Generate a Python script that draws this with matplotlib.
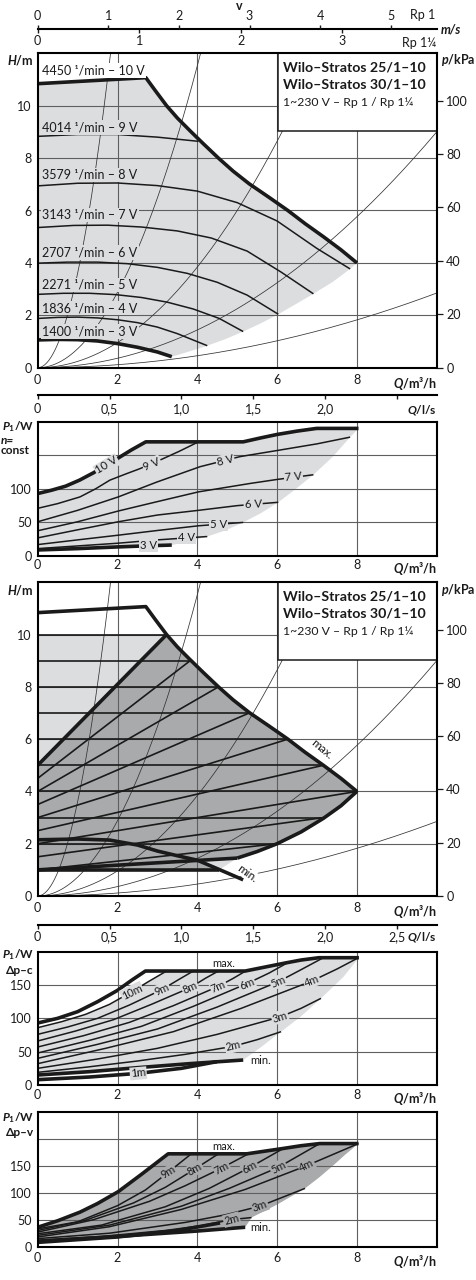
import numpy as np
import matplotlib
matplotlib.use("Agg")
import matplotlib.pyplot as plt

plt.rcParams['font.family'] = ['Lato', 'DejaVu Sans']
plt.rcParams['mathtext.fontset'] = 'custom'
plt.rcParams['mathtext.rm'] = 'Lato:bold'
plt.rcParams['mathtext.it'] = 'Lato:italic:bold'
plt.rcParams['mathtext.bf'] = 'Lato:bold'

# ------------------------------------------------------------------ data
Q_TICKS = [0, 2, 4, 6, 8]
Q_TICK_LABELS = ['0', '2', '4', '6', '8']
GRID_Q = [2, 4, 6, 8]

V_RP1 = [0, 1, 2, 3, 4, 5]
V_RP114 = [0, 1, 2, 3]
M3H_PER_MS_RP1 = 1.77
M3H_PER_MS_RP114 = 2.545
LS_TICKS = [0, 0.5, 1.0, 1.5, 2.0, 2.5]
LS_LABELS_A = ['0', '0,5', '1,0', '1,5', '2,0', '']
LS_LABELS_B = ['0', '0,5', '1,0', '1,5', '2,0', '2,5']
M3H_PER_LS = 3.6

H_TICKS = [0, 2, 4, 6, 8, 10]
GRID_H = [2, 4, 6, 8, 10]
KPA_TICKS = [0, 20, 40, 60, 80, 100]
KPA_PER_M = 9.81

BOX_LINES = ['Wilo–Stratos 25/1–10', 'Wilo–Stratos 30/1–10', '1~230 V – Rp 1 / Rp 1¼']

# max. curve (H/m over Q/m3/h)
max_q = [0, 2.71, 2.95, 3.23, 3.5, 3.82, 4.15, 4.53, 4.9, 5.3, 5.8, 6.27, 6.7, 7.16, 7.6, 8.0]
max_h = [10.84, 11.07, 10.57, 10.0, 9.53, 9.04, 8.55, 8.0, 7.5, 7.02, 6.5, 6.0, 5.5, 5.0, 4.5, 4.0]
MAX_KNEE = 3  # index of the point (3.23, 10)

# constant speed curves 9 V ... 3 V
speed_rpm = ['4450', '4014', '3579', '3143', '2707', '2271', '1836', '1400']
speed_volt = ['10', '9', '8', '7', '6', '5', '4', '3']
speed_label_h = [11.35, 9.17, 7.36, 5.83, 4.4, 3.16, 2.27, 1.38]
n_curve_q = [
    [0, 1, 2, 3, 4.03],
    [0, 1, 2, 3, 4, 5, 6, 7, 7.83],
    [0, 0.9, 1.75, 2.6, 3.5, 4.35, 5.25, 6.1, 6.91],
    [0, 0.75, 1.5, 2.25, 3, 3.75, 4.5, 5.25, 6.03],
    [0, 0.65, 1.3, 1.95, 2.6, 3.25, 3.9, 4.55, 5.15],
    [0, 0.5, 1, 1.5, 2, 2.5, 3, 3.5, 4.25],
    [0, 0.5, 1, 1.5, 2, 2.5, 3, 3.36],
]
n_curve_h = [
    [8.83, 8.9, 8.9, 8.8, 8.64],
    [6.94, 7.04, 7.05, 6.95, 6.74, 6.3, 5.6, 4.55, 3.77],
    [5.35, 5.43, 5.44, 5.37, 5.22, 4.95, 4.45, 3.65, 2.82],
    [3.99, 4.03, 4.03, 3.97, 3.83, 3.6, 3.26, 2.77, 2.04],
    [2.80, 2.84, 2.84, 2.79, 2.68, 2.5, 2.24, 1.88, 1.38],
    [1.88, 1.92, 1.93, 1.9, 1.83, 1.72, 1.55, 1.3, 0.84],
    [1.06, 1.08, 1.07, 1.02, 0.92, 0.78, 0.6, 0.42],
]
p1_edge_q = [8.0, 7.83, 7.4, 6.91, 6.45, 6.03, 5.6, 5.15, 4.7, 4.25, 3.8, 3.36]
p1_edge_h = [4.0, 3.77, 3.28, 2.82, 2.41, 2.04, 1.7, 1.38, 1.09, 0.84, 0.62, 0.42]

system_k = [3.6, 0.72, 0.24, 0.09, 0.0285]

# power, n = const
p2_max_q = [0, 0.35, 0.7, 1.05, 1.4, 1.7, 2.02, 2.35, 2.71, 5.15, 5.6, 6.0, 6.5, 6.99, 8.04]
p2_max_p = [93, 98, 104, 113, 124, 135, 146, 158, 170, 170, 176, 181, 186, 190, 190]
p2_curve_q = [
    [0, 0.5, 1.06, 1.45, 1.81, 2.2, 2.56, 3.07, 3.55, 4.03],
    [0, 1, 2.02, 2.98, 4.07, 5.07, 5.99, 7.0, 7.83],
    [0, 1, 2.02, 3, 4.03, 5.32, 6.0, 6.91],
    [0, 1, 2.02, 3, 4.03, 5, 6.03],
    [0, 1, 2.02, 3, 4.03, 5.15],
    [0, 1, 2, 3, 4.25],
    [0, 1, 2, 2.8, 3.36],
]
p2_curve_p = [
    [71, 78, 88, 100, 113, 122, 130, 143, 156, 170],
    [51, 68, 88, 110, 133, 148, 157, 167, 177],
    [37.6, 51, 67, 81, 95.5, 108, 114, 121],
    [27, 39, 51, 61, 68, 75, 80],
    [17, 24, 31, 38, 45, 50],
    [11, 15, 19, 24, 29],
    [9, 11, 13.5, 15.3, 16.3],
]
p2_edge_q = [8.04, 7.83, 7.4, 6.91, 6.45, 6.03, 5.6, 5.15, 4.7, 4.25, 3.8, 3.36]
p2_edge_p = [190, 177, 148, 121, 99, 80, 64, 50, 38, 29, 22, 16.3]
p2_label_q = [1.73, 2.86, 4.7, 6.41, 5.4, 4.53, 3.73, 2.77]
p2_label_p = [135, 137, 142, 117.5, 77, 47, 27, 15.3]
p2_rot = [31, 23, 14, 5, 2, 0, 0, 0]

# panel 3: dp-c / dp-v ranges
dpc_h = [2, 3, 4, 5, 6, 7, 8, 9, 10]
dpc_end_q = [6.0, 7.16, 8.0, 7.16, 6.27, 5.3, 4.53, 3.82, 3.23]
dpc_min_h = 1.0
dpc_min_end_q = 4.55
dpv_h0 = [4.5, 4.0, 3.5, 3.0, 2.5, 2.0, 1.5, 1.0]
dpv_end_q = [3.82, 4.53, 5.3, 6.27, 7.16, 8.0, 7.16, 6.0]
dpv_end_h = [9, 8, 7, 6, 5, 4, 3, 2]
dpv_max_q = [0, 3.23]
dpv_max_h = [5.0, 10.0]
dpv_min_q = [0, 5.0]
dpv_min_h = [1.0, 1.45]
p3_edge_q = [8.0, 7.6, 7.16, 6.6, 6.0, 5.5, 5.0, 4.55]
p3_edge_h = [4.0, 3.45, 2.97, 2.45, 2.0, 1.7, 1.45, 1.0]
EDGE_DPV_END = 6  # index of (5.0, 1.45)
minspd_q = [0, 1, 1.8, 2.5, 3.0, 3.5, 4.0, 4.57, 5.15]
minspd_h = [2.15, 2.18, 2.14, 1.95, 1.72, 1.54, 1.37, 1.0, 0.62]
MINSPD_CROSS = 6  # index of (4.0, 1.37), crossing with dp-v min line

# panel 4: power dp-c
p4_max_q = [0, 0.5, 1.0, 1.5, 2.0, 2.35, 2.7, 5.2, 5.7, 6.2, 6.6, 7.05, 8.05]
p4_max_p = [93, 100, 110, 125, 142, 157, 171, 171, 177, 183, 187.5, 191, 191]
p4_names = ['10m', '9m', '8m', '7m', '6m', '5m', '4m', '3m', '2m']
p4_q = [[0, 0.6, 1.2, 1.8, 2.36, 2.8, 3.23], [0, 0.75, 1.5, 2.3, 3.11, 3.5, 3.9],
        [0, 0.95, 1.9, 2.85, 3.82, 4.2, 4.53], [0, 1.15, 2.3, 3.4, 4.53, 4.9, 5.24],
        [0, 1.3, 2.6, 3.9, 5.24, 5.8, 6.28], [0, 1.5, 3.0, 4.5, 6.03, 6.6, 7.16],
        [0, 1.7, 3.4, 5.1, 6.87, 7.5, 8.04], [0, 1.5, 3.0, 4.5, 6.07, 6.6, 7.1],
        [0, 1.25, 2.5, 3.7, 4.9, 5.5, 6.1]]
p4_p = [[86, 95, 106, 121, 140, 156, 171], [76, 87, 100, 120, 143, 157, 171],
        [66, 81, 98, 121, 146, 160, 171], [57, 74, 94, 119, 148, 160, 172],
        [48, 67, 88, 118, 152, 168, 184], [40, 61, 84, 117, 155, 173, 191],
        [32, 55, 80, 115, 156, 174, 191], [25, 39, 55, 76, 102, 115, 130],
        [19, 27, 36, 46, 58, 68, 80]]
p4_rot = [26, 25, 24, 23, 22, 22, 21, 17, 13]
P4_LABEL_AT = 4
p4_min_q = [0, 1.3, 2.5, 3.8, 5.15]
p4_min_p = [15, 20, 26, 32, 37.5]
p4_1m_q = [0, 1.3, 2.52, 3.6, 4.49]
p4_1m_p = [8, 12, 17.5, 25, 35]
p4_edge_q = [8.05, 7.66, 7.1, 6.6, 6.1, 5.6, 5.15]
p4_edge_p = [191, 162, 130, 103, 80, 57, 37.5]

# panel 5: power dp-v
p5_max_q = [0, 0.5, 1.06, 1.5, 2.02, 2.6, 3.27, 5.24, 5.7, 6.16, 6.6, 7.07, 8.04]
p5_max_p = [36, 48, 64, 80, 102, 134, 172, 172, 177, 182, 187, 191, 191]
p5_names = ['9m', '8m', '7m', '6m', '5m', '4m', '3m', '2m']
p5_q = [[0, 1, 2, 2.7, 3.27, 3.85], [0, 1.2, 2.4, 3.2, 3.94, 4.53], [0, 1.4, 2.8, 3.7, 4.61, 5.28],
        [0, 1.6, 3.2, 4.3, 5.32, 6.16], [0, 1.8, 3.6, 4.8, 6.03, 7.07], [0, 1.8, 3.6, 5.2, 6.74, 8.04],
        [0, 1.8, 3.7, 4.7, 5.57, 6.7], [0, 1.6, 3.2, 4.1, 4.86, 5.36]]
p5_p = [[33, 46, 76, 105, 137.6, 172], [30, 49, 81, 110, 143.8, 172], [27, 50, 84, 113, 145.6, 172],
        [24, 40, 74, 108, 146.9, 182], [21, 40, 75, 108, 146.9, 191], [18, 37, 69, 106, 150, 191],
        [15, 25, 45, 59, 75, 108], [12, 19, 30, 39, 50.2, 54]]
p5_rot = [31, 29, 28, 28, 27, 26, 20, 15]
P5_LABEL_AT = 4
p5_min_q = [0, 2, 4, 5.2]
p5_min_p = [10, 19, 29, 36]
p5_low_q = [0, 2, 3.5, 4.57]
p5_low_p = [8, 18, 30, 44]
p5_edge_q = [8.04, 7.7, 7.4, 7.05, 6.7, 6.0, 5.36, 5.2]
p5_edge_p = [191, 170, 150, 128, 108, 78, 54, 36]

# ------------------------------------------------------------------ style
W, H = 477, 1280
LIGHT = '#dcdddf'
DARK = '#a9aaac'
GRID = '#5f5f5f'
INK = '#1a1a1a'
THIN = 1.1
THICK = 2.6
SYS = 0.55
FS_TICK = 9

fig = plt.figure(figsize=(W / 100, H / 100), dpi=100)


def fx(px):
    return px / W


def fy(py):
    return 1 - py / H


def make_axes(left, top, right, bottom):
    return fig.add_axes([fx(left), fy(bottom), (right - left) / W, (bottom - top) / H])


def style_panel(ax, ymax, yt, grid_y, xpad):
    ax.set_xlim(0, 10)
    ax.set_ylim(0, ymax)
    ax.set_xticks(Q_TICKS)
    ax.set_xticklabels(Q_TICK_LABELS)
    ax.set_yticks(yt)
    ax.set_yticklabels([str(t) for t in yt])
    ax.tick_params(axis='both', length=0, labelsize=FS_TICK, colors=INK)
    ax.tick_params(axis='x', pad=xpad)
    ax.tick_params(axis='y', pad=4.3)
    for s in ax.spines.values():
        s.set_linewidth(1.5)
        s.set_zorder(10)
    for q in GRID_Q:
        ax.axvline(q, color=GRID, lw=0.8, zorder=1.5)
    for y in grid_y:
        ax.axhline(y, color=GRID, lw=0.8, zorder=1.5)
    ax.annotate(r'$\mathit{Q}\mathrm{/m³/h}$', xy=(1, 0), xycoords='axes fraction',
                xytext=(0, -xpad * 100 / 72 - 1), textcoords='offset pixels',
                ha='right', va='top', fontsize=9, color=INK)


def curve(ax, q, y, lw, z=4):
    ax.plot(q, y, color=INK, lw=lw, zorder=z, solid_capstyle='butt')


def tag(ax, q, y, s, rot, fc, fs=8.2):
    ax.text(q, y, s, rotation=rot, rotation_mode='anchor', ha='center', va='center',
            fontsize=fs, color=INK, zorder=7,
            bbox=dict(boxstyle='square,pad=0.08', fc=fc, ec='none'))


def system_curves(ax):
    qq = np.linspace(0, 10, 400)
    for k in system_k:
        ax.plot(qq, k * qq ** 2, color='#333333', lw=SYS, zorder=3)


def info_box(ax):
    ax.add_patch(plt.Rectangle((6.03, 9.02), 3.97, 2.98, fc='white', ec=INK, lw=1.1, zorder=8))
    ax.text(6.16, 11.46, BOX_LINES[0], fontsize=10.2, fontweight='bold', va='center', zorder=9, color=INK)
    ax.text(6.16, 10.8, BOX_LINES[1], fontsize=10.2, fontweight='bold', va='center', zorder=9, color=INK)
    ax.text(6.16, 10.13, BOX_LINES[2], fontsize=8.8, va='center', zorder=9, color=INK)


def kpa_axis(ax):
    r = ax.twinx()
    r.set_ylim(0, 12 * KPA_PER_M)
    r.set_yticks(KPA_TICKS)
    r.set_yticklabels([str(t) for t in KPA_TICKS])
    r.tick_params(axis='y', direction='out', length=4.3, width=0.9, pad=2.5,
                  labelsize=FS_TICK, colors=INK)
    for s in r.spines.values():
        s.set_visible(False)


def ftext(px, py, s, **kw):
    kw.setdefault('color', INK)
    fig.text(fx(px), fy(py), s, **kw)


def scale_axis(py, ticks_q, labels, pad):
    a = fig.add_axes([fx(37.7), fy(py), 399 / W, 1e-5])
    a.set_xlim(0, 10)
    a.set_yticks([])
    for k in ['left', 'right', 'top']:
        a.spines[k].set_visible(False)
    a.spines['bottom'].set_linewidth(1.5)
    a.set_xticks(ticks_q)
    a.set_xticklabels(labels)
    a.tick_params(axis='x', direction='out', length=3.2, width=1.0, pad=pad,
                  labelsize=FS_TICK, colors=INK)
    a.patch.set_visible(False)
    return a


# ------------------------------------------------------------------ velocity scale
axv = scale_axis(29.3, [v * M3H_PER_MS_RP114 for v in V_RP114], [str(v) for v in V_RP114], 1.2)
axt = axv.twiny()
axt.set_xlim(0, 10)
axt.set_xticks([v * M3H_PER_MS_RP1 for v in V_RP1])
axt.set_xticklabels([str(v) for v in V_RP1])
axt.tick_params(axis='x', direction='out', length=3.2, width=1.0, pad=2.0,
                labelsize=FS_TICK, colors=INK)
for s in axt.spines.values():
    s.set_visible(False)
ftext(435, 15, 'Rp 1', ha='right', va='center', fontsize=FS_TICK)
ftext(436.7, 42.7, 'Rp 1¼', ha='right', va='center', fontsize=FS_TICK)
ftext(441, 29.3, 'm/s', ha='left', va='center', fontsize=9, fontweight='bold', fontstyle='italic')
ftext(239, 5.5, 'v', ha='center', va='center', fontsize=9, fontweight='bold')

# ------------------------------------------------------------------ panel 1
ax1 = make_axes(37.7, 53.3, 436.7, 367.7)
style_panel(ax1, 12, H_TICKS, GRID_H, 4.3)
kpa_axis(ax1)
ax1.fill(list(max_q) + p1_edge_q + n_curve_q[-1][::-1],
         list(max_h) + p1_edge_h + n_curve_h[-1][::-1], color=LIGHT, lw=0, zorder=1)
curve(ax1, max_q, max_h, THICK)
for i, (q, h) in enumerate(zip(n_curve_q, n_curve_h)):
    curve(ax1, q, h, THICK if i == len(n_curve_q) - 1 else THIN)
system_curves(ax1)
for i, (rpm, v, lh) in enumerate(zip(speed_rpm, speed_volt, speed_label_h)):
    ax1.text(0.12, lh, f'{rpm} ¹/min – {v} V', ha='left', va='center', fontsize=9, color=INK,
             zorder=7, bbox=dict(boxstyle='square,pad=0.1', fc='white' if i == 0 else LIGHT, ec='none'))
info_box(ax1)
ftext(33.5, 60, r'$\mathit{H}\mathrm{/m}$', ha='right', va='center', fontsize=9)
ftext(441, 60, r'$\mathit{p}\mathrm{/kPa}$', ha='left', va='center', fontsize=9)

# ------------------------------------------------------------------ Q l/s scale A
axl = scale_axis(395, [v * M3H_PER_LS for v in LS_TICKS], LS_LABELS_A, 2.8)
ftext(436.7, 410, r'$\mathit{Q}\mathrm{/l/s}$', ha='right', va='center', fontsize=8.6)

# ------------------------------------------------------------------ panel 2
ax2 = make_axes(37.7, 421.7, 436.7, 556)
style_panel(ax2, 200, [0, 50, 100], [50, 100, 150], 2.4)
ax2.fill(list(p2_max_q) + p2_edge_q + p2_curve_q[-1][::-1],
         list(p2_max_p) + p2_edge_p + p2_curve_p[-1][::-1], color=LIGHT, lw=0, zorder=1)
curve(ax2, p2_max_q, p2_max_p, THICK)
for i, (q, p) in enumerate(zip(p2_curve_q, p2_curve_p)):
    curve(ax2, q, p, THICK if i == len(p2_curve_q) - 1 else THIN)
for v, q, p, r in zip(speed_volt, p2_label_q, p2_label_p, p2_rot):
    tag(ax2, q, p, f'{v} V', r, LIGHT)
ftext(33.5, 426.5, r'$\mathit{P_1}\mathrm{/W}$', ha='right', va='center', fontsize=8.6)
ftext(0.5, 440.5, 'n=', ha='left', va='center', fontsize=8.6, fontweight='bold', fontstyle='italic')
ftext(0.5, 451, 'const', ha='left', va='center', fontsize=8.6, fontweight='bold')

# ------------------------------------------------------------------ panel 3
ax3 = make_axes(37.7, 582.3, 436.7, 896)
style_panel(ax3, 12, H_TICKS, GRID_H, 4.3)
kpa_axis(ax3)
top_q = max_q[MAX_KNEE:]
top_h = max_h[MAX_KNEE:]
ax3.fill([0, dpc_min_end_q] + p3_edge_q[::-1][1:] + top_q[::-1] + [0],
         [dpc_min_h, dpc_min_h] + p3_edge_h[::-1][1:] + top_h[::-1] + [10],
         color=LIGHT, lw=0, zorder=1)
ax3.fill(dpv_max_q + top_q[1:] + p3_edge_q[1:EDGE_DPV_END + 1]
         + minspd_q[MINSPD_CROSS:MINSPD_CROSS + 2] + [0],
         dpv_max_h + top_h[1:] + p3_edge_h[1:EDGE_DPV_END + 1]
         + minspd_h[MINSPD_CROSS:MINSPD_CROSS + 2] + [dpc_min_h],
         color=DARK, lw=0, zorder=1.2)
for h, qe in zip(dpc_h, dpc_end_q):
    ax3.plot([0, qe], [h, h], color=INK, lw=1.2, zorder=3.5)
for h0, qe, he in zip(dpv_h0, dpv_end_q, dpv_end_h):
    ax3.plot([0, qe], [h0, he], color=INK, lw=1.2, zorder=3.5)
curve(ax3, [0, dpc_min_end_q], [dpc_min_h, dpc_min_h], THICK)
curve(ax3, dpv_max_q, dpv_max_h, THICK)
curve(ax3, dpv_min_q, dpv_min_h, THICK)
curve(ax3, p3_edge_q[:EDGE_DPV_END + 1], p3_edge_h[:EDGE_DPV_END + 1], THICK)
curve(ax3, max_q, max_h, THICK)
curve(ax3, minspd_q, minspd_h, THICK)
system_curves(ax3)
info_box(ax3)
ax3.text(7.12, 5.6, 'max.', rotation=-40, rotation_mode='anchor', ha='center', va='center',
         fontsize=8.5, color=INK, zorder=7)
ax3.text(5.26, 0.86, 'min.', rotation=-36, rotation_mode='anchor', ha='center', va='center',
         fontsize=8.5, color=INK, zorder=7, bbox=dict(boxstyle='square,pad=0.05', fc='white', ec='none'))
ftext(33.5, 590, r'$\mathit{H}\mathrm{/m}$', ha='right', va='center', fontsize=9)
ftext(441, 590, r'$\mathit{p}\mathrm{/kPa}$', ha='left', va='center', fontsize=9)

# ------------------------------------------------------------------ Q l/s scale B
axl2 = scale_axis(925, [v * M3H_PER_LS for v in LS_TICKS], LS_LABELS_B, 1.0)
ftext(436.7, 937, r'$\mathit{Q}\mathrm{/l/s}$', ha='right', va='center', fontsize=8.6)

# ------------------------------------------------------------------ panel 4
ax4 = make_axes(37.7, 951.7, 436.7, 1085)
style_panel(ax4, 200, [0, 50, 100, 150], [50, 100, 150], 3.0)
top4_q = p4_q[0] + [q for q in p4_max_q if q > p4_q[0][-1]]
top4_p = p4_p[0] + [p for q, p in zip(p4_max_q, p4_max_p) if q > p4_q[0][-1]]
ax4.fill(top4_q + p4_edge_q[1:] + p4_min_q[::-1],
         top4_p + p4_edge_p[1:] + p4_min_p[::-1], color=LIGHT, lw=0, zorder=1)
curve(ax4, p4_max_q, p4_max_p, THICK)
for q, p in zip(p4_q, p4_p):
    curve(ax4, q, p, THIN)
curve(ax4, p4_min_q, p4_min_p, THICK)
curve(ax4, p4_1m_q, p4_1m_p, THICK)
for n, q, p, r in zip(p4_names, p4_q, p4_p, p4_rot):
    tag(ax4, q[P4_LABEL_AT], p[P4_LABEL_AT], n, r, LIGHT, 7.8)
tag(ax4, p4_1m_q[2], p4_1m_p[2], '1m', 5, LIGHT, 7.8)
ax4.text(4.65, 182.5, 'max.', ha='center', va='center', fontsize=8, color=INK, zorder=7)
ax4.text(5.32, 37, 'min.', ha='left', va='center', fontsize=8, color=INK, zorder=7)
ftext(33.5, 955, r'$\mathit{P_1}\mathrm{/W}$', ha='right', va='center', fontsize=8.6)
ftext(33.5, 971, 'Δp–c', ha='right', va='center', fontsize=8.6, fontweight='bold')

# ------------------------------------------------------------------ panel 5
ax5 = make_axes(37.7, 1111.7, 436.7, 1246.7)
style_panel(ax5, 250, [0, 50, 100, 150], [50, 100, 150, 200], 4.0)
ax5.fill(list(p5_max_q) + p5_edge_q[1:] + p5_min_q[::-1],
         list(p5_max_p) + p5_edge_p[1:] + p5_min_p[::-1], color=DARK, lw=0, zorder=1)
curve(ax5, p5_max_q, p5_max_p, THICK)
for q, p in zip(p5_q, p5_p):
    curve(ax5, q, p, THIN)
curve(ax5, p5_min_q, p5_min_p, THICK)
curve(ax5, p5_low_q, p5_low_p, THICK)
for n, q, p, r in zip(p5_names, p5_q, p5_p, p5_rot):
    tag(ax5, q[P5_LABEL_AT], p[P5_LABEL_AT], n, r, DARK, 7.8)
ax5.text(4.65, 186, 'max.', ha='center', va='center', fontsize=8, color=INK, zorder=7)
ax5.text(5.32, 35.6, 'min.', ha='left', va='center', fontsize=8, color=INK, zorder=7)
ftext(33.5, 1118, r'$\mathit{P_1}\mathrm{/W}$', ha='right', va='center', fontsize=8.6)
ftext(33.5, 1132, 'Δp–v', ha='right', va='center', fontsize=8.6, fontweight='bold')

fig.savefig('out.png', dpi=100)
